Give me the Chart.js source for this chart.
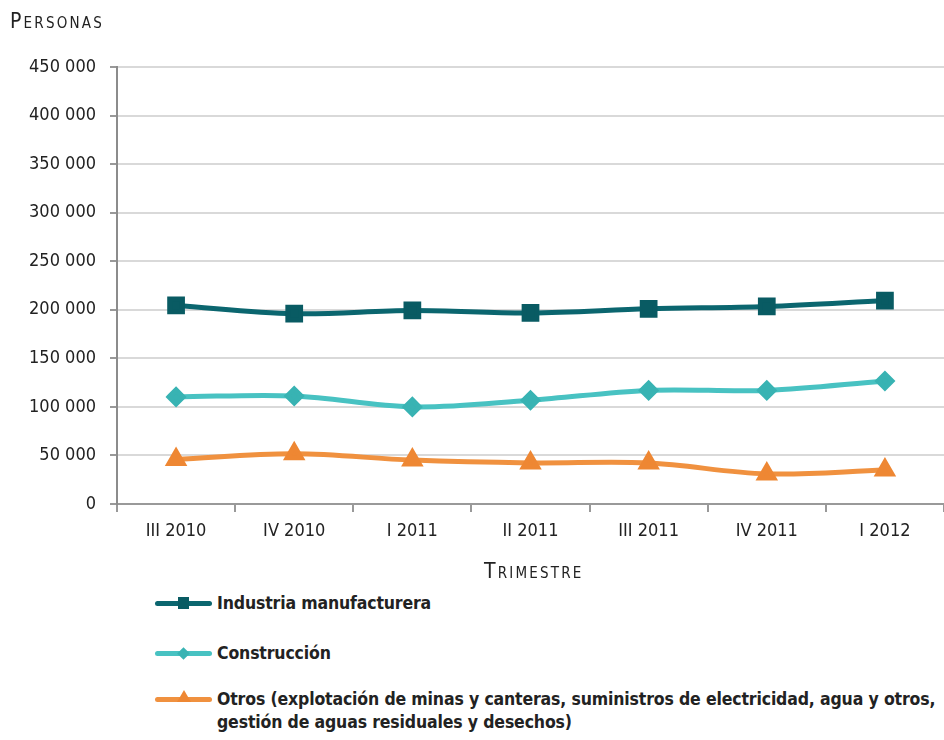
<!DOCTYPE html>
<html>
<head>
<meta charset="utf-8">
<script src="https://cdn.jsdelivr.net/npm/chart.js@4.4.1/dist/chart.umd.min.js"></script>
<style>
  body { margin: 0; background: #fff; font-family: "DejaVu Sans Condensed", "DejaVu Sans", sans-serif; color: #222; overflow: hidden; }
  #wrap { position: relative; width: 944px; height: 740px; }
  #chart { position: absolute; left: 0; top: 0; }
  .caps { position: absolute; font-variant: small-caps; font-size: 21px; letter-spacing: 2.2px; color: #222; }
  #legend { position: absolute; left: 155px; top: 592px; font-weight: bold; font-size: 17.5px; letter-spacing: -0.15px; }
  .row { position: absolute; left: 0; height: 24px; line-height: 23px; padding-left: 62px; white-space: pre; }
  .sym { position: absolute; left: 0; top: 9px; width: 57px; height: 5px; border-radius: 3px; }
  .mk { position: absolute; left: 23px; top: -4px; width: 11px; height: 12px; }
</style>
</head>
<body>
<div id="wrap">
  <canvas id="chart" width="944" height="560"></canvas>
  <div class="caps" style="left:10px; top:9px;">Personas</div>
  <div class="caps" style="left:484px; top:559px;">Trimestre</div>
  <div id="legend"></div>
</div>
<script>
// Categories (quarters)
const trimestres = ['III 2010', 'IV 2010', 'I 2011', 'II 2011', 'III 2011', 'IV 2011', 'I 2012'];

// Series values (persons)
const industria = [204500, 196000, 199300, 196700, 201000, 203400, 209500];
const construccion = [110300, 111300, 100000, 106900, 117000, 117000, 126700];
const otros = [45800, 51700, 45200, 42300, 42200, 31000, 35000];

// Legend labels
const etiquetas = [
  'Industria manufacturera',
  'Construcción',
  'Otros (explotación de minas y canteras, suministros de electricidad, agua y otros,\ngestión de aguas residuales y desechos)'
];

const colores = ['#0b666f', '#48c2c2', '#f0913f'];
const marcadorColor = ['#095b63', '#38b3b3', '#ee8733'];
const marcadores = ['rect', 'rectRot', 'triangle'];
const radios = [9, 7, 8];

const series = [industria, construccion, otros];

const datasets = series.map((values, i) => ({
  label: etiquetas[i],
  data: values,
  borderColor: colores[i],
  backgroundColor: colores[i],
  pointBackgroundColor: marcadorColor[i],
  pointBorderColor: marcadorColor[i],
  borderWidth: 5,
  pointStyle: marcadores[i],
  pointRadius: radios[i],
  pointHoverRadius: radios[i],
  tension: 0.35,
  fill: false
}));

const font = { family: '"DejaVu Sans Condensed", "DejaVu Sans", sans-serif', size: 18 };

new Chart(document.getElementById('chart'), {
  type: 'line',
  data: { labels: trimestres, datasets: datasets },
  options: {
    responsive: false,
    animation: false,
    layout: { autoPadding: false, padding: { top: 67, right: 0, left: 0, bottom: 0 } },
    plugins: { legend: { display: false }, tooltip: { enabled: false } },
    scales: {
      x: {
        offset: true,
        grid: { drawOnChartArea: false, offset: true, tickLength: 8, tickColor: '#999', lineWidth: 2 },
        border: { color: '#999', width: 2 },
        ticks: { color: '#222', font: font, padding: 9 },
        afterFit: (scale) => { scale.height = 56; }
      },
      y: {
        min: 0,
        max: 450000,
        grid: { color: '#d9d9d9', lineWidth: 2, tickLength: 7, tickColor: '#999' },
        border: { color: '#8c8c8c', width: 2 },
        ticks: {
          stepSize: 50000,
          color: '#222',
          font: font,
          padding: 14,
          callback: (v) => v.toString().replace(/\B(?=(\d{3})+(?!\d))/g, ' ')
        },
        afterFit: (scale) => { scale.width = 117; }
      }
    }
  }
});

// HTML legend so the long label can wrap like the original
const legend = document.getElementById('legend');
const tops = [0, 50, 96];
etiquetas.forEach((txt, i) => {
  const row = document.createElement('div');
  row.className = 'row';
  row.style.top = tops[i] + 'px';
  const sym = document.createElement('span');
  sym.className = 'sym';
  sym.style.background = colores[i];
  const mk = document.createElement('span');
  mk.className = 'mk';
  if (i === 0) {
    mk.style.background = marcadorColor[0];
  } else if (i === 1) {
    mk.style.background = marcadorColor[1];
    mk.style.width = '9px'; mk.style.height = '9px';
    mk.style.left = '24px'; mk.style.top = '-2px';
    mk.style.transform = 'rotate(45deg)';
  } else {
    mk.style.width = '0'; mk.style.height = '0';
    mk.style.left = '22px'; mk.style.top = '-7px';
    mk.style.borderLeft = '7px solid transparent';
    mk.style.borderRight = '7px solid transparent';
    mk.style.borderBottom = '12px solid ' + marcadorColor[2];
  }
  sym.appendChild(mk);
  row.appendChild(sym);
  row.appendChild(document.createTextNode(txt));
  legend.appendChild(row);
});
</script>
</body>
</html>
